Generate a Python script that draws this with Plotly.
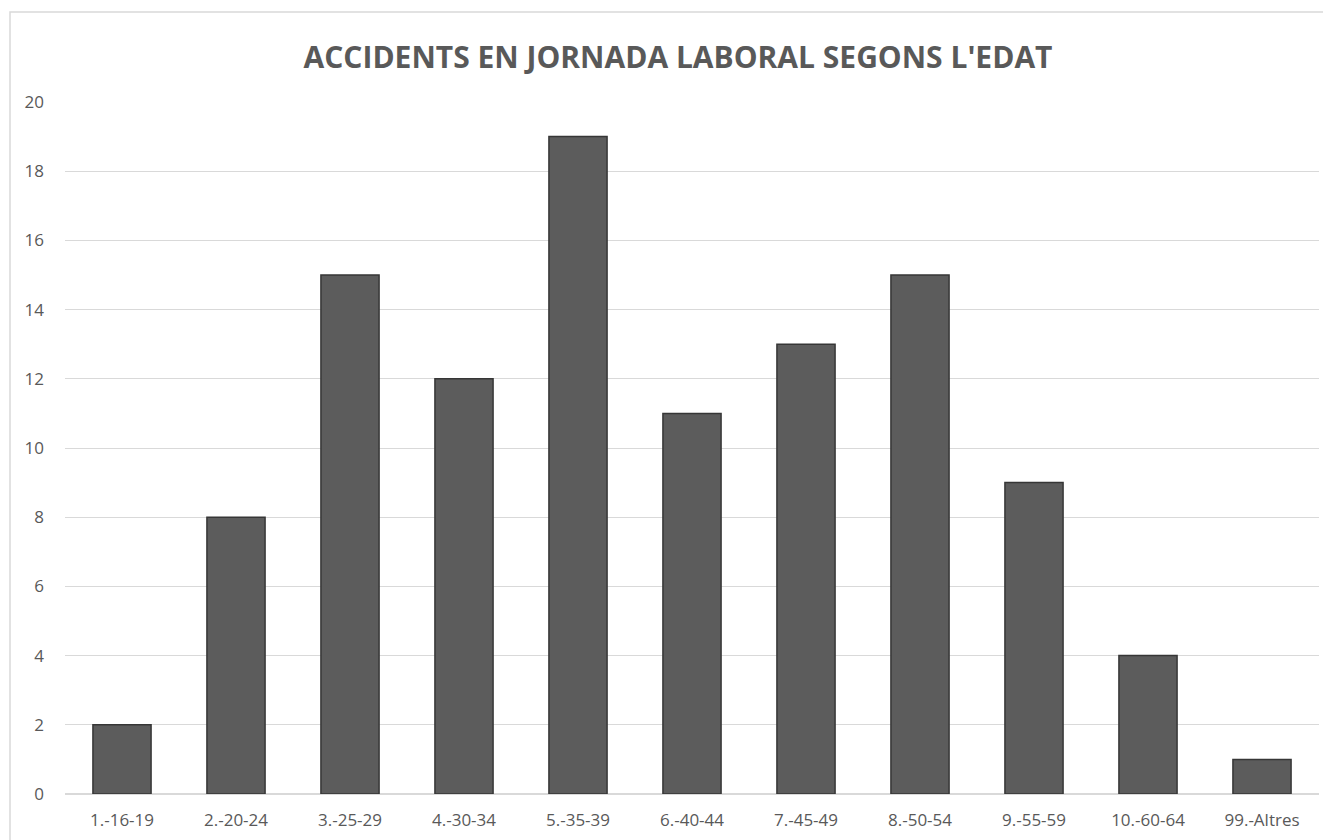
import plotly.graph_objects as go

# age groups and number of accidents
age_groups = ["1.-16-19", "2.-20-24", "3.-25-29", "4.-30-34", "5.-35-39", "6.-40-44",
              "7.-45-49", "8.-50-54", "9.-55-59", "10.-60-64", "99.-Altres"]
accidents = [2, 8, 15, 12, 19, 11, 13, 15, 9, 4, 1]
y_ticks = list(range(0, 21, 2))

# page body adds an 8px offset, so the figure is a bit smaller than the window
W, H = 1323, 832
ml, mr, mt, mb = 57, 12, 94, 46
pw, ph = W - ml - mr, H - mt - mb

fig = go.Figure()
fig.add_trace(go.Bar(
    x=age_groups, y=accidents,
    marker=dict(color="#5c5c5c", line=dict(color="#363636", width=1.5)),
    hoverinfo="x+y",
))

# chart border (Excel style frame)
fig.add_shape(type="rect", xref="paper", yref="paper",
              x0=(2 - ml) / pw, x1=1.05, y0=-0.2, y1=(H - mb - 4) / ph,
              line=dict(color="#d9d9d9", width=1.5), fillcolor="rgba(0,0,0,0)", layer="below")

fig.update_layout(
    width=W, height=H,
    margin=dict(l=ml, r=mr, t=mt, b=mb),
    paper_bgcolor="white", plot_bgcolor="white",
    font=dict(family="Open Sans", color="#595959", size=17),
    title=dict(text="<b>ACCIDENTS EN JORNADA LABORAL SEGONS L'EDAT</b>",
               xref="container", x=670 / W, xanchor="center", y=1 - 49 / H, yanchor="middle",
               font=dict(size=30, color="#595959", family="Open Sans")),
    bargap=0.49,
    showlegend=False,
)
fig.update_yaxes(range=[0, 20], tickvals=y_ticks, showgrid=True, gridcolor="#d9d9d9",
                 gridwidth=1, zeroline=True, zerolinecolor="#d9d9d9", zerolinewidth=1.5,
                 showline=False, ticks="", ticklabelstandoff=20, tickfont=dict(size=17),
                 automargin=False)
fig.update_xaxes(showline=False, ticks="", ticklabelstandoff=14, tickfont=dict(size=17),
                 automargin=False)

fig.write_html("out.html")
